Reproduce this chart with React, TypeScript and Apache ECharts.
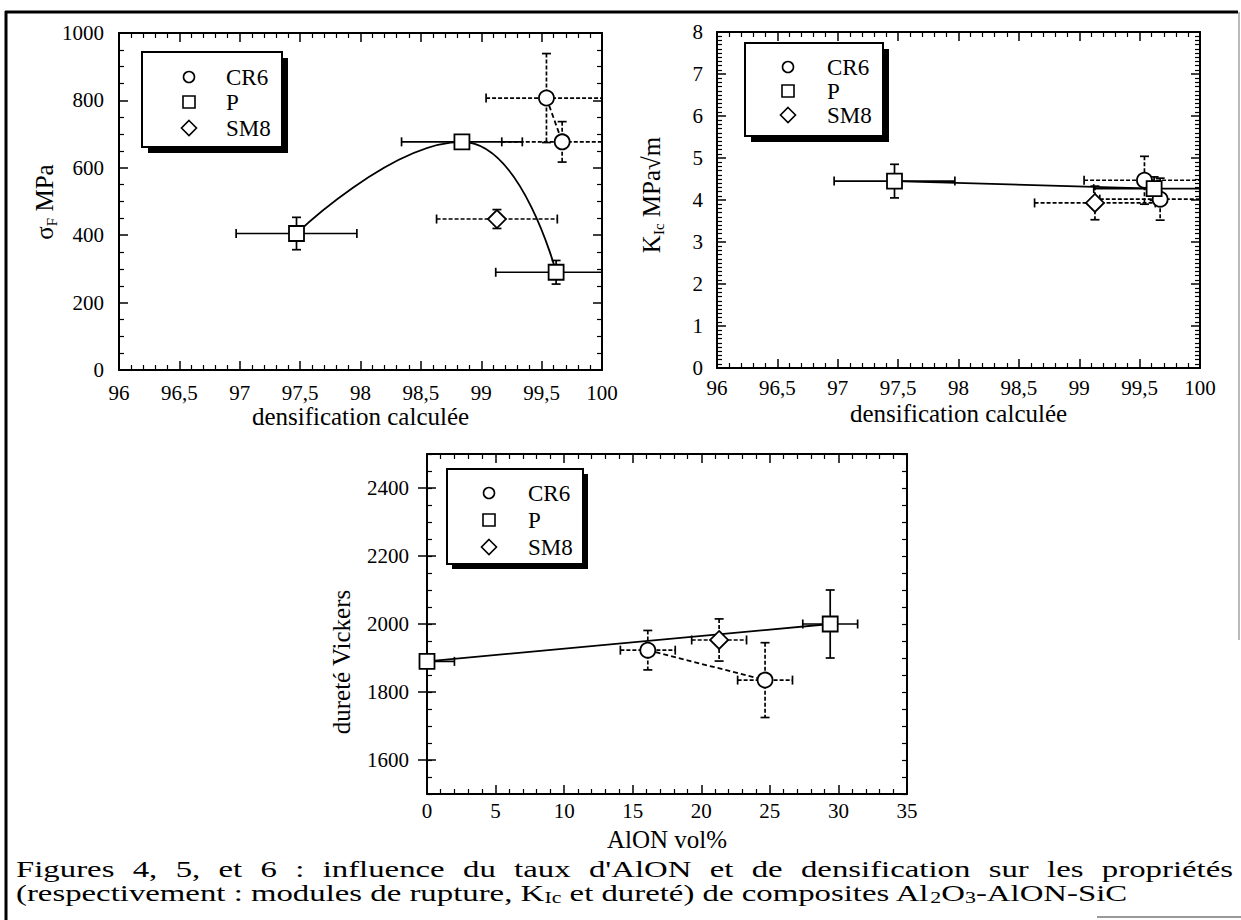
import React, { useEffect, useRef } from "react";
import * as echarts from "echarts";

const FONT = "Liberation Serif";

// ---------- Figure 4 : sigma_F vs densification ----------
const fig4_P_x = [97.47, 98.84, 99.62];
const fig4_P_y = [405, 677, 290];
const fig4_P_xerr = [0.5, 0.5, 0.5];
const fig4_P_yerr = [48, 8, 35];
const fig4_CR6_x = [99.54, 99.67];
const fig4_CR6_y = [807, 677];
const fig4_CR6_xerr = [0.5, 0.5];
const fig4_CR6_yerr = [132, 60];
const fig4_SM8_x = [99.13];
const fig4_SM8_y = [448];
const fig4_SM8_xerr = [0.5];
const fig4_SM8_yerr = [28];

// ---------- Figure 5 : KIc vs densification ----------
const fig5_P_x = [97.47, 99.62];
const fig5_P_y = [4.45, 4.27];
const fig5_P_xerr = [0.5, 0.5];
const fig5_P_yerr = [0.4, 0.28];
const fig5_CR6_x = [99.54, 99.67];
const fig5_CR6_y = [4.47, 4.02];
const fig5_CR6_xerr = [0.5, 0.5];
const fig5_CR6_yerr = [0.57, 0.5];
const fig5_SM8_x = [99.13];
const fig5_SM8_y = [3.93];
const fig5_SM8_xerr = [0.5];
const fig5_SM8_yerr = [0.4];

// ---------- Figure 6 : Vickers hardness vs AlON vol% ----------
const fig6_P_x = [0, 29.4];
const fig6_P_y = [1890, 2000];
const fig6_P_xerr = [2, 2];
const fig6_P_yerr = [0, 100];
const fig6_CR6_x = [16.1, 24.65];
const fig6_CR6_y = [1923, 1835];
const fig6_CR6_xerr = [2, 2];
const fig6_CR6_yerr = [58, 110];
const fig6_SM8_x = [21.3];
const fig6_SM8_y = [1953];
const fig6_SM8_xerr = [2];
const fig6_SM8_yerr = [62];

const fig6YLabels = [1600, 1800, 2000, 2200, 2400];
const legendNames = ["CR6", "P", "SM8"];
const legendSymbols = ["circle", "rect", "diamond"];

const caption1 =
  "Figures 4, 5, et 6 : influence du taux d'AlON et de densification sur les propriétés";
const caption2Parts: [string, boolean][] = [
  ["(respectivement : modules de rupture, K", false],
  ["Ic", true],
  [" et dureté) de composites Al", false],
  ["2", true],
  ["O", false],
  ["3", true],
  ["-AlON-SiC", false],
];

const comma = (v: number) => String(v).replace(".", ",");
const plain = (v: number) => String(v);

const lineStyleAxis = { color: "#000", width: 2 };

function xPair(grid: number, min: number, max: number, interval: number, minorSplit: number,
  name: string, nameGap: number, labelMargin: number, fmt: (v: number) => string) {
  const base: any = {
    type: "value", gridIndex: grid, min, max, interval,
    axisLine: { show: true, onZero: false, lineStyle: lineStyleAxis },
    axisTick: { show: true, inside: true, length: 9, lineStyle: { color: "#000", width: 1.5 } },
    minorTick: { show: true, splitNumber: minorSplit, length: 5, lineStyle: { color: "#000", width: 1.2 } },
    splitLine: { show: false }, minorSplitLine: { show: false },
  };
  return [
    {
      ...base, position: "bottom",
      axisLabel: { show: true, formatter: fmt, fontFamily: FONT, fontSize: 21, color: "#000", margin: labelMargin },
      name, nameLocation: "middle", nameGap,
      nameTextStyle: { fontFamily: FONT, fontSize: 25, color: "#000" },
    },
    { ...base, position: "top", axisLabel: { show: false } },
  ];
}

function yPair(grid: number, min: number, max: number, interval: number, minorSplit: number, labelMargin: number) {
  const base: any = {
    type: "value", gridIndex: grid, min, max, interval,
    axisLine: { show: true, onZero: false, lineStyle: lineStyleAxis },
    axisTick: { show: true, inside: true, length: 9, lineStyle: { color: "#000", width: 1.5 } },
    minorTick: { show: true, splitNumber: minorSplit, length: 5, lineStyle: { color: "#000", width: 1.2 } },
    splitLine: { show: false }, minorSplitLine: { show: false },
  };
  return [
    {
      ...base, position: "left",
      axisLabel: { show: true, formatter: plain, fontFamily: FONT, fontSize: 21, color: "#000", margin: labelMargin },
    },
    { ...base, position: "right", axisLabel: { show: false } },
  ];
}

function errorSeries(name: string, axisIdx: number, xs: number[], ys: number[], xe: number[], ye: number[], dashed: boolean) {
  return {
    type: "custom", name, xAxisIndex: axisIdx, yAxisIndex: axisIdx, z: 2, silent: true,
    data: xs.map((x, i) => [x, ys[i], xe[i], ye[i]]),
    encode: { x: 0, y: 1 },
    renderItem: (params: any, api: any) => {
      const x = api.value(0), y = api.value(1), dx = api.value(2), dy = api.value(3);
      const cs = params.coordSys;
      const cx = (v: number) => Math.max(cs.x, Math.min(cs.x + cs.width, v));
      const cy = (v: number) => Math.max(cs.y, Math.min(cs.y + cs.height, v));
      const c = api.coord([x, y]);
      const style: any = { stroke: "#000", lineWidth: 1.7, fill: null, lineDash: dashed ? [4, 2] : null };
      const capStyle: any = { stroke: "#000", lineWidth: 1.7, fill: null };
      const cap = 4.5;
      const children: any[] = [];
      if (dx > 0) {
        const l = api.coord([x - dx, y])[0];
        const r = api.coord([x + dx, y])[0];
        const lx = cx(l), rx = cx(r);
        children.push({ type: "line", shape: { x1: lx, y1: c[1], x2: rx, y2: c[1] }, style });
        if (lx === l) children.push({ type: "line", shape: { x1: lx, y1: c[1] - cap, x2: lx, y2: c[1] + cap }, style: capStyle });
        if (rx === r) children.push({ type: "line", shape: { x1: rx, y1: c[1] - cap, x2: rx, y2: c[1] + cap }, style: capStyle });
      }
      if (dy > 0) {
        const t = api.coord([x, y + dy])[1];
        const b = api.coord([x, y - dy])[1];
        const ty = cy(t), by = cy(b);
        children.push({ type: "line", shape: { x1: c[0], y1: ty, x2: c[0], y2: by }, style });
        if (ty === t) children.push({ type: "line", shape: { x1: c[0] - cap, y1: ty, x2: c[0] + cap, y2: ty }, style: capStyle });
        if (by === b) children.push({ type: "line", shape: { x1: c[0] - cap, y1: by, x2: c[0] + cap, y2: by }, style: capStyle });
      }
      return { type: "group", children };
    },
  };
}

function markerSeries(name: string, axisIdx: number, xs: number[], ys: number[], symbol: string, size: number) {
  return {
    type: "scatter", name, xAxisIndex: axisIdx, yAxisIndex: axisIdx, z: 5, silent: true, clip: false,
    symbol, symbolSize: size,
    data: xs.map((x, i) => [x, ys[i]]),
    itemStyle: { color: "#fff", borderColor: "#000", borderWidth: 1.8, opacity: 1 },
  };
}

function lineSeries(name: string, axisIdx: number, xs: number[], ys: number[], dashed: boolean, smooth: number | boolean) {
  return {
    type: "line", name, xAxisIndex: axisIdx, yAxisIndex: axisIdx, z: 3, silent: true,
    symbol: "none", smooth,
    data: xs.map((x, i) => [x, ys[i]]),
    lineStyle: { color: "#000", width: 1.8, type: dashed ? [5, 3] : "solid" },
  };
}

function legendBox(x: number, y: number, w: number, h: number, off: number, markerX: number, textX: number, rows: number[]) {
  const els: any[] = [
    { type: "rect", shape: { x: x + off, y: y + off, width: w, height: h }, style: { fill: "#000" } },
    { type: "rect", shape: { x, y, width: w, height: h }, style: { fill: "#fff", stroke: "#000", lineWidth: 2 } },
  ];
  legendNames.forEach((n, i) => {
    const cyy = rows[i];
    const st = { fill: "#fff", stroke: "#000", lineWidth: 1.6 };
    const s = legendSymbols[i];
    if (s === "circle") els.push({ type: "circle", shape: { cx: markerX, cy: cyy, r: 5.5 }, style: st });
    else if (s === "rect") els.push({ type: "rect", shape: { x: markerX - 6, y: cyy - 6, width: 12, height: 12 }, style: st });
    else els.push({ type: "polygon", shape: { points: [[markerX, cyy - 7.5], [markerX + 7.5, cyy], [markerX, cyy + 7.5], [markerX - 7.5, cyy]] }, style: st });
    els.push({ type: "text", x: textX, y: cyy, style: { text: n, fontFamily: FONT, fontSize: 23, fill: "#000", align: "left", verticalAlign: "middle" } });
  });
  return els;
}

function vText(x: number, y: number, text: string, rich?: any) {
  return {
    type: "text", x, y, rotation: Math.PI / 2,
    style: { text, rich, fontFamily: FONT, fontSize: 25, fill: "#000", align: "center", verticalAlign: "middle" },
  };
}

function buildCaption() {
  const canvas = document.createElement("canvas");
  const ctx = canvas.getContext("2d")!;
  const size = 24, sub = 16;
  const meas = (t: string, s: number) => { ctx.font = `${s}px "Liberation Serif"`; return ctx.measureText(t).width; };
  const w2 = caption2Parts.reduce((a, [t, isSub]) => a + meas(t, isSub ? sub : size), 0);
  const left = 16, right2 = 1127, right1 = 1233;
  const sc = (right2 - left) / w2;
  const els: any[] = [];
  const words = caption1.split(" ");
  const ws = words.map((w) => meas(w, size) * sc);
  const gap = (right1 - left - ws.reduce((a, b) => a + b, 0)) / (words.length - 1);
  let px = left;
  words.forEach((w, i) => {
    els.push({ type: "text", x: px, y: 869, scaleX: sc, style: { text: w, fontFamily: FONT, fontSize: size, fill: "#000", align: "left", verticalAlign: "middle" } });
    px += ws[i] + gap;
  });
  const richText = caption2Parts.map(([t, isSub]) => `{${isSub ? "s" : "m"}|${t}}`).join("");
  els.push({
    type: "text", x: left, y: 893, scaleX: sc,
    style: {
      text: richText, fontFamily: FONT, fontSize: size, fill: "#000", align: "left", verticalAlign: "middle",
      rich: {
        m: { fontFamily: FONT, fontSize: size, fill: "#000", lineHeight: 26, verticalAlign: "middle" },
        s: { fontFamily: FONT, fontSize: sub, fill: "#000", lineHeight: 16, verticalAlign: "bottom" },
      },
    },
  });
  return els;
}

function buildOption() {
  const f6Base: any = {
    type: "value", gridIndex: 2, min: 1500, max: 2500, interval: 50,
    axisLine: { show: true, onZero: false, lineStyle: lineStyleAxis },
    axisTick: { show: true, inside: true, length: 5, lineStyle: { color: "#000", width: 1.2 } },
    splitLine: { show: false },
  };
  const f6Major: any = {
    type: "value", gridIndex: 2, min: 1500, max: 2500, interval: 50,
    axisLine: { show: false },
    axisTick: { show: true, inside: true, length: 9, customValues: fig6YLabels, lineStyle: { color: "#000", width: 1.5 } },
    axisLabel: { show: false }, splitLine: { show: false },
  };
  const richSub = {
    m: { fontFamily: FONT, fontSize: 25, fill: "#000", lineHeight: 30, verticalAlign: "middle" },
    s: { fontFamily: FONT, fontSize: 15, fill: "#000", lineHeight: 15, verticalAlign: "bottom" },
  };

  const series: any[] = [
    errorSeries("CR6", 0, fig4_CR6_x, fig4_CR6_y, fig4_CR6_xerr, fig4_CR6_yerr, true),
    errorSeries("P", 0, fig4_P_x, fig4_P_y, fig4_P_xerr, fig4_P_yerr, false),
    errorSeries("SM8", 0, fig4_SM8_x, fig4_SM8_y, fig4_SM8_xerr, fig4_SM8_yerr, true),
    lineSeries("P", 0, fig4_P_x, fig4_P_y, false, 0.5),
    lineSeries("CR6", 0, fig4_CR6_x, fig4_CR6_y, true, false),
    markerSeries("CR6", 0, fig4_CR6_x, fig4_CR6_y, "circle", 15),
    markerSeries("P", 0, fig4_P_x, fig4_P_y, "rect", 15),
    markerSeries("SM8", 0, fig4_SM8_x, fig4_SM8_y, "diamond", 18),
  ];
  const at = (idx: number) => (s: any) => ({ ...s, xAxisIndex: idx, yAxisIndex: idx });
  const f5 = at(2);
  const f6 = at(4);
  series.push(
    f5(errorSeries("CR6", 0, fig5_CR6_x, fig5_CR6_y, fig5_CR6_xerr, fig5_CR6_yerr, true)),
    f5(errorSeries("P", 0, fig5_P_x, fig5_P_y, fig5_P_xerr, fig5_P_yerr, false)),
    f5(errorSeries("SM8", 0, fig5_SM8_x, fig5_SM8_y, fig5_SM8_xerr, fig5_SM8_yerr, true)),
    f5(lineSeries("P", 0, fig5_P_x, fig5_P_y, false, false)),
    f5(lineSeries("CR6", 0, fig5_CR6_x, fig5_CR6_y, true, false)),
    f5(markerSeries("CR6", 0, fig5_CR6_x, fig5_CR6_y, "circle", 15)),
    f5(markerSeries("P", 0, fig5_P_x, fig5_P_y, "rect", 15)),
    f5(markerSeries("SM8", 0, fig5_SM8_x, fig5_SM8_y, "diamond", 18)),
    f6(errorSeries("CR6", 0, fig6_CR6_x, fig6_CR6_y, fig6_CR6_xerr, fig6_CR6_yerr, true)),
    f6(errorSeries("P", 0, fig6_P_x, fig6_P_y, fig6_P_xerr, fig6_P_yerr, false)),
    f6(errorSeries("SM8", 0, fig6_SM8_x, fig6_SM8_y, fig6_SM8_xerr, fig6_SM8_yerr, true)),
    f6(lineSeries("P", 0, fig6_P_x, fig6_P_y, false, false)),
    f6(lineSeries("CR6", 0, fig6_CR6_x, fig6_CR6_y, true, false)),
    f6(markerSeries("CR6", 0, fig6_CR6_x, fig6_CR6_y, "circle", 15)),
    f6(markerSeries("P", 0, fig6_P_x, fig6_P_y, "rect", 15)),
    f6(markerSeries("SM8", 0, fig6_SM8_x, fig6_SM8_y, "diamond", 18)),
  );

  return {
    animation: false,
    backgroundColor: "#fff",
    textStyle: { fontFamily: FONT },
    grid: [
      { left: 119, top: 33, width: 483, height: 337 },
      { left: 717, top: 32, width: 483, height: 336 },
      { left: 427, top: 454, width: 480, height: 340 },
    ],
    xAxis: [
      ...xPair(0, 96, 100, 0.5, 5, "densification calculée", 33, 12, comma),
      ...xPair(1, 96, 100, 0.5, 5, "densification calculée", 33, 9, comma),
      ...xPair(2, 0, 35, 5, 5, "AlON vol%", 33, 6, plain),
    ],
    yAxis: [
      ...yPair(0, 0, 1000, 200, 4, 15),
      ...yPair(1, 0, 8, 1, 10, 14),
      {
        ...f6Base, position: "left",
        axisLabel: {
          show: true, fontFamily: FONT, fontSize: 21, color: "#000", margin: 18,
          formatter: (v: number) => (fig6YLabels.indexOf(v) >= 0 ? String(v) : ""),
        },
      },
      { ...f6Base, position: "right", axisLabel: { show: false } },
      { ...f6Major, position: "left" },
      { ...f6Major, position: "right" },
    ],
    series,
    graphic: [
      { type: "line", shape: { x1: 6, y1: 11, x2: 6, y2: 920 }, style: { stroke: "#000", lineWidth: 3 } },
      { type: "line", shape: { x1: 5, y1: 12, x2: 1238, y2: 12 }, style: { stroke: "#000", lineWidth: 3 } },
      { type: "line", shape: { x1: 1239, y1: 12, x2: 1239, y2: 640 }, style: { stroke: "#777", lineWidth: 1 } },
      { type: "line", shape: { x1: 1097, y1: 917, x2: 1241, y2: 917 }, style: { stroke: "#999", lineWidth: 2 } },
      ...legendBox(142, 52, 140, 95, 6, 189, 226, [77, 102, 128]),
      ...legendBox(745, 43, 138, 93, 6, 788, 827, [67, 91, 115]),
      ...legendBox(447, 469, 136, 95, 5, 489, 528, [493, 520, 547]),
      vText(44, 202, "{m|σ}{s|F}{m| MPa}", richSub),
      vText(651, 195, "{m|K}{s|Ic}{m| MPa√m}", richSub),
      vText(341, 662, "dureté Vickers"),
      ...buildCaption(),
    ],
  };
}

export default function App() {
  const ref = useRef<HTMLDivElement>(null);
  useEffect(() => {
    const chart = echarts.init(ref.current!, null, { renderer: "svg" });
    chart.setOption(buildOption() as any);
    return () => chart.dispose();
  }, []);
  return (
    <div
      ref={ref}
      style={{ position: "absolute", left: 0, top: 0, width: 1241, height: 920, background: "#fff" }}
    />
  );
}
